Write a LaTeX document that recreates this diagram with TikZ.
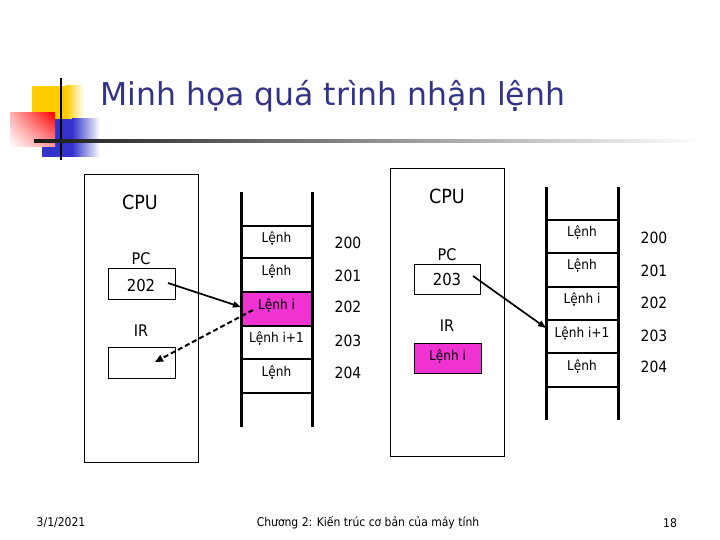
\documentclass[tikz,border=0pt]{standalone}
\usepackage{fontspec}
\setmainfont[FakeStretch=0.9]{DejaVu Sans}
\newfontfamily\titlefont{DejaVu Sans}
\usetikzlibrary{arrows.meta,shadings}
\definecolor{titleblue}{RGB}{51,51,136}
\definecolor{mag}{RGB}{240,50,210}
\definecolor{decoyellow}{RGB}{255,204,0}
\definecolor{decoblue}{RGB}{51,51,204}
\tikzset{
  cpubox/.style={draw, line width=0.8pt, inner sep=0pt, anchor=north west},
  regbox/.style={draw, line width=0.8pt, minimum width=67pt, minimum height=31pt, inner sep=0pt},
  celltext/.style={font=\fontsize{13.5}{15}\selectfont, inner sep=0pt},
  addr/.style={font=\fontsize{15.5}{17}\selectfont, inner sep=0pt},
  lbl/.style={font=\fontsize{16}{18}\selectfont, inner sep=0pt},
  cpulbl/.style={font=\fontsize{19.5}{22}\selectfont, inner sep=0pt},
  regval/.style={font=\fontsize{16.5}{18}\selectfont, inner sep=0pt},
  rail/.style={line width=3pt},
  rung/.style={line width=2.3pt},
  foot/.style={font=\fontsize{12}{14}\selectfont, inner sep=0pt},
  solidarrow/.style={line width=1.7pt, -{Triangle[length=8pt,width=6pt]}},
  dasharrow/.style={line width=2pt, dash pattern=on 5pt off 3pt, -{Triangle[length=8pt,width=7pt]}},
}
\begin{document}
\begin{tikzpicture}[x=1pt,y=-1pt]
\useasboundingbox (0,0) rectangle (720,540);
% decoration
\fill[decoyellow] (32,86) rectangle (66,120);
\shade[left color=decoyellow, right color=white] (66,86) rectangle (84,120);
\fill[decoblue] (42,119) rectangle (72,157);
\shade[left color=decoblue, right color=white] (72,119) rectangle (100,157);
\shade[upper right=red, upper left=red!30, lower right=red!40, lower left=white] (10,113) rectangle (55,147);
\draw[line width=2.5pt] (61,78) -- (61,160);
\shade[left color=black!90, right color=white] (34,140) rectangle (700,142.5);
% title
\node[anchor=base west, inner sep=0pt, text=titleblue, font=\titlefont\fontsize{31.5}{34}\selectfont] (title) at (100,106) {Minh họa quá trình nhận lệnh};

% ===== left CPU =====
\node[cpubox, minimum width=114pt, minimum height=288pt] (cpu1) at (84,174) {};
\node[cpulbl] (cpu1lbl) at (140,202) {CPU};
\node[lbl] (pc1lbl) at (141,259) {PC};
\node[regbox] (pc1) at (141.5,284) {};
\node[regval] (pc1val) at (141,285) {202};
\node[lbl] (ir1lbl) at (141,331) {IR};
\node[regbox] (ir1) at (141.5,363) {};
% left memory
\node[fill=mag, minimum width=71pt, minimum height=34pt, inner sep=0pt] (m1c3) at (276.5,309) {};
\draw[rail] (241,192) -- (241,427);
\draw[rail] (312,192) -- (312,427);
\foreach \y in {226,258,292,326,359,393} \draw[rung] (241,\y) -- (312,\y);
\node[celltext] (m1t1) at (276.5,238) {Lệnh};
\node[celltext] (m1t2) at (276.5,271) {Lệnh};
\node[celltext] (m1t3) at (276.5,305) {Lệnh i};
\node[celltext] (m1t4) at (276.5,338) {Lệnh i+1};
\node[celltext] (m1t5) at (276.5,372) {Lệnh};
\node[addr] (a1) at (348,243) {200};
\node[addr] (a2) at (348,276) {201};
\node[addr] (a3) at (348,307) {202};
\node[addr] (a4) at (348,341) {203};
\node[addr] (a5) at (348,373) {204};
\coordinate (s1) at (168,283);
\coordinate (e1) at (241,307);
\draw[solidarrow] (s1) -- (e1);
\coordinate (s2) at (253,310);
\coordinate (e2) at (155,362);
\draw[dasharrow] (s2) -- (e2);

% ===== right CPU =====
\node[cpubox, minimum width=114pt, minimum height=288pt] (cpu2) at (390,168) {};
\node[cpulbl] (cpu2lbl) at (447,196) {CPU};
\node[lbl] (pc2lbl) at (447,255) {PC};
\node[regbox, minimum width=66pt, minimum height=30pt] (pc2) at (447,279) {};
\node[regval] (pc2val) at (447,279) {203};
\node[lbl] (ir2lbl) at (447,326) {IR};
\node[regbox, fill=mag, minimum width=67pt, minimum height=30pt] (ir2) at (447.5,358) {};
\node[celltext] (ir2val) at (447.5,356) {Lệnh i};
% right memory
\draw[rail] (546,187) -- (546,420);
\draw[rail] (618,187) -- (618,420);
\foreach \y in {220,253,287,320,353,387} \draw[rung] (546,\y) -- (618,\y);
\node[celltext] (m2t1) at (582,232) {Lệnh};
\node[celltext] (m2t2) at (582,265) {Lệnh};
\node[celltext] (m2t3) at (582,299) {Lệnh i};
\node[celltext] (m2t4) at (582,333) {Lệnh i+1};
\node[celltext] (m2t5) at (582,366) {Lệnh};
\node[addr] (b1) at (654,238) {200};
\node[addr] (b2) at (654,271) {201};
\node[addr] (b3) at (654,303) {202};
\node[addr] (b4) at (654,336) {203};
\node[addr] (b5) at (654,367) {204};
\coordinate (s3) at (473,276);
\coordinate (e3) at (546,328);
\draw[solidarrow] (s3) -- (e3);

% footer
\node[foot] (date) at (61,523) {3/1/2021};
\node[foot] (chap) at (368,523) {Chương 2: Kiến trúc cơ bản của máy tính};
\node[foot] (page) at (670,523) {18};
\end{tikzpicture}
\end{document}
